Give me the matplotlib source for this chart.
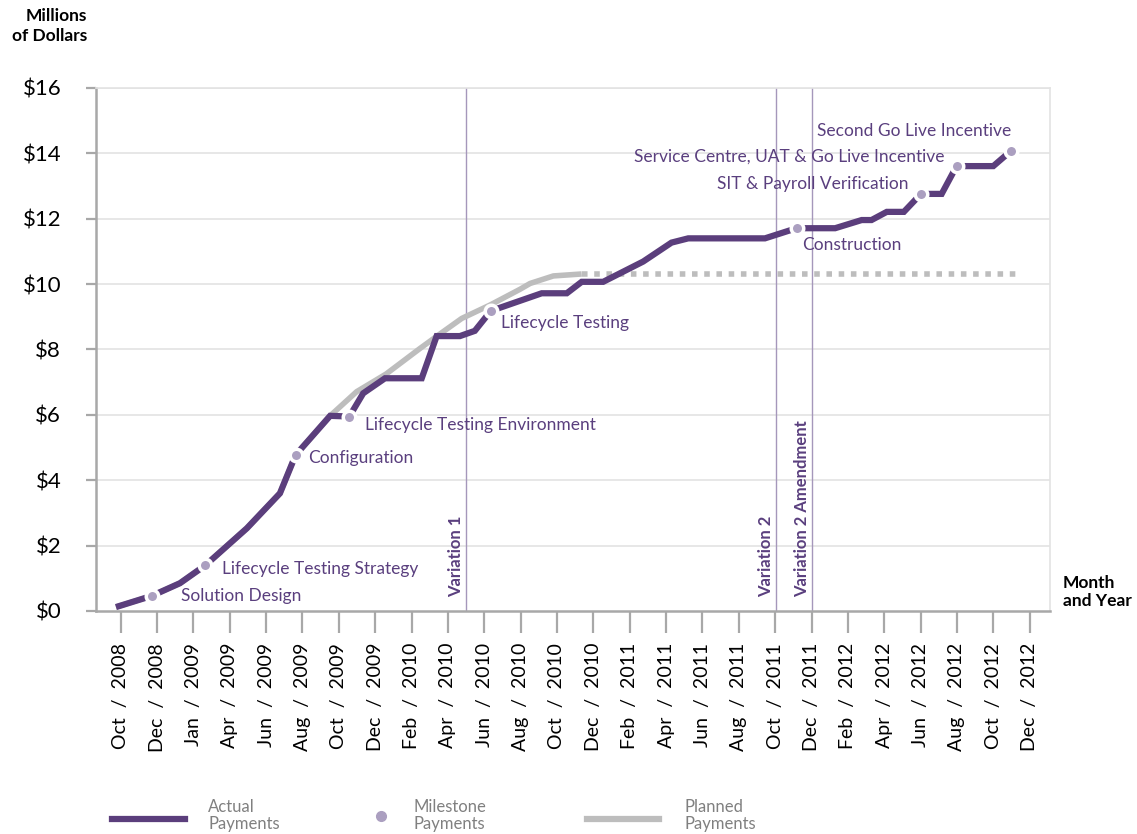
import matplotlib.pyplot as plt
from matplotlib.lines import Line2D

plt.rcParams['font.family'] = ['Lato', 'DejaVu Sans']

# x positions are in tick units (one unit per labelled tick)
tick_labels = ['Oct  /  2008', 'Dec  /  2008', 'Jan  /  2009', 'Apr  /  2009', 'Jun  /  2009',
               'Aug  /  2009', 'Oct  /  2009', 'Dec  /  2009', 'Feb  /  2010', 'Apr  /  2010',
               'Jun  /  2010', 'Aug  /  2010', 'Oct  /  2010', 'Dec  /  2010', 'Feb  /  2011',
               'Apr  /  2011', 'Jun  /  2011', 'Aug  /  2011', 'Oct  /  2011', 'Dec  /  2011',
               'Feb  /  2012', 'Apr  /  2012', 'Jun  /  2012', 'Aug  /  2012', 'Oct  /  2012',
               'Dec  /  2012']

actual_x = [-0.13, 0.85, 1.63, 2.33, 3.47, 4.38, 4.81, 5.76, 6.29, 6.67, 7.27, 8.28,
            8.69, 9.33, 9.74, 10.18, 11.58, 12.27, 12.68, 13.27, 14.37, 15.15, 15.61,
            17.72, 18.59, 19.65, 20.38, 20.65, 21.07, 21.54, 22.01, 22.58, 22.99,
            24.0, 24.49]
actual_y = [0.12, 0.46, 0.85, 1.40, 2.53, 3.60, 4.77, 5.97, 5.95, 6.66, 7.12, 7.12,
            8.41, 8.41, 8.57, 9.18, 9.72, 9.72, 10.07, 10.07, 10.69, 11.27, 11.40,
            11.40, 11.71, 11.71, 11.96, 11.96, 12.21, 12.21, 12.76, 12.76, 13.61,
            13.61, 14.08]

planned_x = [-0.13, 0.85, 1.63, 2.33, 3.47, 4.38, 4.81, 5.76, 6.49, 7.3, 8.23, 8.75,
             9.38, 10.16, 10.98, 11.26, 11.9, 12.68]
planned_y = [0.12, 0.46, 0.85, 1.40, 2.53, 3.60, 4.77, 5.97, 6.71, 7.25, 8.03, 8.45,
             8.95, 9.36, 9.84, 10.02, 10.25, 10.31]
planned_end_x = 24.68

milestone_x = [0.85, 2.33, 4.81, 6.29, 10.18, 18.59, 22.01, 22.99, 24.49]
milestone_y = [0.46, 1.40, 4.77, 5.93, 9.18, 11.71, 12.76, 13.61, 14.08]
milestone_labels = ['Solution Design', 'Lifecycle Testing Strategy', 'Configuration',
                    'Lifecycle Testing Environment', 'Lifecycle Testing', 'Construction',
                    'SIT & Payroll Verification', 'Service Centre, UAT & Go Live Incentive',
                    'Second Go Live Incentive']

variation_x = [9.5, 18.02, 19.01]
variation_labels = ['Variation 1', 'Variation 2', 'Variation 2 Amendment']

yticks = [0, 2, 4, 6, 8, 10, 12, 14, 16]

purple = '#5b3e7c'
dot = '#ab9fc0'
grey = '#bdbdbd'
text_purple = '#5a3f7e'

fig = plt.figure(figsize=(11.37, 8.34), dpi=100)
ax = fig.add_axes([0.0844, 0.2674, 0.8391, 0.6271])

ax.set_xlim(-0.68, 25.56)
ax.set_ylim(0, 16)

for y in yticks[1:]:
    ax.axhline(y, color='#e3e3e3', lw=1.2, zorder=0)

ax.plot(planned_x, planned_y, color=grey, lw=4, solid_capstyle='butt', zorder=2)
ax.plot([planned_x[-1], planned_end_x], [planned_y[-1], planned_y[-1]], color=grey,
        lw=4, linestyle=(0, (1, 1.2)), dash_capstyle='butt', zorder=2)
ax.plot(actual_x, actual_y, color=purple, lw=4.5, solid_capstyle='butt',
        solid_joinstyle='miter', zorder=3)
ax.plot(milestone_x, milestone_y, 'o', color=dot, ms=9, mec='white', mew=2.5, zorder=4)

# label offsets in points relative to each milestone
offsets = [(21, 0), (12, -3), (9, -2), (11, -6), (7, -9), (4, -12), (-9, 7), (-9, 7), (0, 14)]
aligns = ['left'] * 6 + ['right'] * 3
for x, y, lab, off, ha in zip(milestone_x, milestone_y, milestone_labels, offsets, aligns):
    ax.annotate(lab, (x, y), xytext=off, textcoords='offset points', ha=ha, va='center',
                fontsize=12.5, color=text_purple, zorder=5)

for x, lab in zip(variation_x, variation_labels):
    ax.axvline(x, color='#a597bb', lw=1, zorder=1)
    ax.text(x - 0.28, 0.43, lab, rotation=90, ha='center', va='bottom', fontsize=12,
            fontweight='bold', color=text_purple)

ax.set_xticks(range(len(tick_labels)))
ax.set_xticklabels(tick_labels, rotation=90, fontsize=14)
ax.set_yticks(yticks)
ax.set_yticklabels(['$' + str(v) for v in yticks], fontsize=16)
ax.tick_params(axis='x', length=16, width=1.6, color='#a8a8a8', pad=7)
ax.tick_params(axis='y', length=7, width=1.6, color='#a8a8a8', pad=18)

for s in ['left', 'bottom']:
    ax.spines[s].set_color('#a8a8a8')
    ax.spines[s].set_linewidth(1.8)
for s in ['right', 'top']:
    ax.spines[s].set_color('#e3e3e3')
    ax.spines[s].set_linewidth(1.2)

fig.text(0.0765, 0.99, 'Millions\nof Dollars', ha='right', va='top', fontsize=12.5,
         fontweight='bold', linespacing=1.25)
fig.text(0.935, 0.29, 'Month\nand Year', ha='left', va='center', fontsize=12.5,
         fontweight='bold', linespacing=1.2)

# legend at the bottom
fig.add_artist(Line2D([0.0985, 0.1627], [0.018, 0.018], color=purple, lw=4.5))
fig.text(0.183, 0.022, 'Actual\nPayments', ha='left', va='center', fontsize=12,
         color='#808080', linespacing=1.05)
fig.add_artist(Line2D([0.335], [0.022], marker='o', color=dot, ms=7, lw=0))
fig.text(0.364, 0.022, 'Milestone\nPayments', ha='left', va='center', fontsize=12,
         color='#808080', linespacing=1.05)
fig.add_artist(Line2D([0.516, 0.580], [0.018, 0.018], color=grey, lw=4.5))
fig.text(0.6016, 0.022, 'Planned\nPayments', ha='left', va='center', fontsize=12,
         color='#808080', linespacing=1.05)

fig.savefig('out.png', dpi=100)
